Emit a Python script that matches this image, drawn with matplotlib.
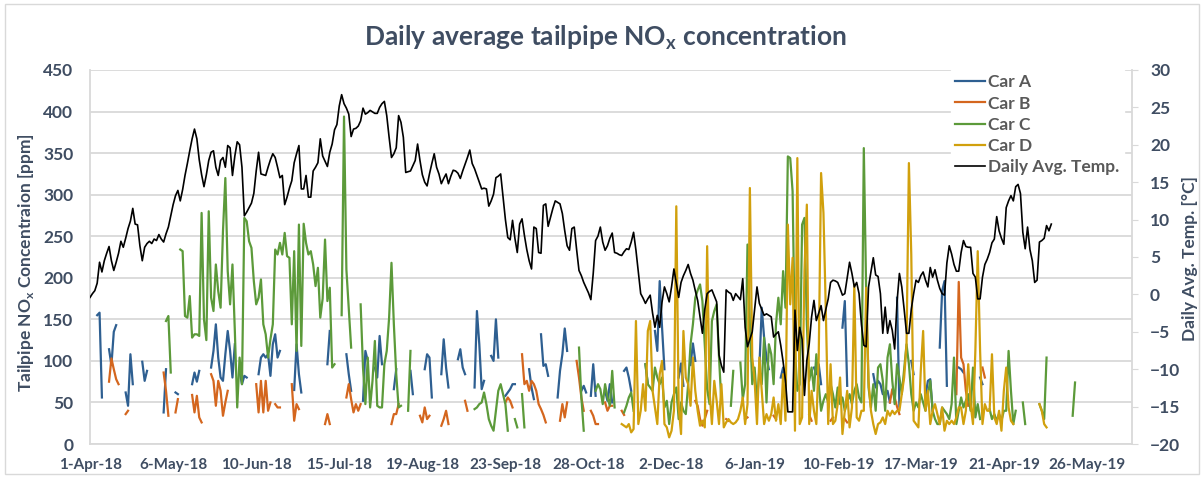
import numpy as np
import pandas as pd
import matplotlib
matplotlib.use("Agg")
import matplotlib.pyplot as plt
from matplotlib.patches import Rectangle

start = pd.Timestamp("2018-04-01")

# daily average temperature [°C], one value per day from 1-Apr-18
temp = [
    -0.4, 0.1, 0.5, 1.5, 4.3, 3.0, 4.5, 5.5, 6.4, 4.5,
    3.2, 4.3, 5.5, 7.1, 6.3, 7.5, 8.8, 9.8, 11.5, 9.4,
    9.3, 6.5, 4.5, 6.3, 6.8, 7.1, 6.8, 7.4, 7.2, 8.0,
    7.4, 7.0, 8.1, 9.0, 10.5, 12.0, 13.2, 13.9, 12.5, 14.0,
    15.9, 17.5, 19.2, 20.8, 22.1, 20.8, 18.0, 16.0, 14.4, 16.0,
    17.9, 19.0, 19.2, 17.0, 15.9, 17.9, 18.3, 17.0, 19.9, 19.6,
    15.9, 18.5, 20.4, 20.0, 17.0, 10.5, 11.0, 11.6, 12.2, 13.5,
    16.5, 19.0, 16.1, 16.0, 15.9, 17.0, 18.0, 18.8, 18.3, 17.0,
    15.6, 15.9, 12.0, 13.0, 14.2, 15.2, 17.6, 18.8, 19.9, 14.1,
    14.1, 15.9, 13.0, 13.0, 16.5, 17.0, 17.6, 20.8, 18.5, 17.8,
    17.1, 19.0, 20.1, 22.0, 22.7, 25.2, 26.7, 25.5, 24.9, 24.1,
    21.1, 22.1, 22.2, 22.5, 23.2, 24.9, 24.1, 24.3, 24.6, 24.4,
    24.2, 24.2, 25.0, 25.5, 25.8, 23.9, 21.0, 18.3, 18.8, 19.6,
    23.9, 23.0, 21.0, 16.3, 16.4, 16.5, 17.2, 17.9, 20.1, 17.9,
    16.0, 15.0, 14.5, 16.1, 17.5, 18.8, 17.0, 16.1, 14.8, 15.5,
    16.1, 14.8, 15.8, 16.6, 16.5, 16.2, 15.5, 16.5, 17.4, 18.3,
    19.3, 17.5, 16.8, 15.9, 15.0, 14.1, 14.2, 14.1, 11.8, 12.5,
    13.4, 15.6, 15.8, 16.1, 13.0, 10.0, 7.6, 7.3, 9.9, 7.5,
    5.6, 9.4, 10.1, 7.9, 6.0, 4.5, 3.4, 9.0, 8.8, 5.6,
    5.5, 11.9, 12.1, 9.1, 10.3, 11.5, 12.5, 12.3, 12.1, 10.8,
    8.5, 6.5, 5.9, 8.8, 9.0, 6.0, 3.2, 2.5, 1.6, 0.9,
    0.2, -0.7, 2.8, 7.2, 7.8, 9.0, 7.0, 5.9, 6.5, 7.5,
    8.2, 5.6, 5.5, 5.3, 5.2, 5.7, 6.1, 6.0, 7.0, 8.3,
    5.9, 3.0, 0.1, -0.5, -1.2, -0.6, -0.1, -2.5, -4.4, -2.8,
    -4.4, -1.0, 1.0, 0.1, -1.0, 1.0, 3.4, 1.5, -0.4, 1.6,
    2.5, 3.2, 4.0, 2.8, 1.9, 0.5, -0.8, -3.0, -5.2, -2.0,
    0.1, 0.4, 0.6, -0.2, -1.0, -8.1, -9.5, -10.4, 0.6, 0.3,
    0.1, -0.8, 0.1, -0.3, -0.7, 2.1, -4.4, -7.0, -6.0, -5.0,
    -2.0, 1.0, -1.2, -2.0, -2.8, -2.6, -2.8, -3.0, -5.7, -5.3,
    -5.0, -6.8, -9.0, -11.5, -15.7, -15.7, -15.7, -2.1, -7.5, -4.4,
    -6.0, -13.5, -8.8, -6.6, -3.0, -0.8, -3.5, -2.5, -1.5, -3.5,
    -2.0, -0.6, 1.6, 1.9, 1.8, 1.6, 0.8, -0.1, 0.1, 2.2,
    4.3, 2.8, 1.0, 1.6, 0.1, -4.0, -6.8, -7.0, 1.0, 3.0,
    4.9, 2.6, 2.4, 0.1, -5.2, -1.7, -5.2, -3.5, -4.8, -7.3,
    -1.0, 2.8, 1.0, -2.0, -5.2, -5.2, -2.0, 0.1, 1.9, 1.6,
    2.5, 3.0, 1.9, 1.0, 3.6, 2.3, 3.3, 1.9, 0.8, 0.1,
    -0.1, 4.2, 6.5, 5.4, 4.0, 3.1, 3.1, 5.6, 7.2, 6.4,
    6.3, 6.3, 2.8, 2.3, -0.6, -0.6, 2.3, 4.0, 4.7, 5.6,
    6.9, 7.4, 10.4, 8.5, 7.5, 6.7, 11.6, 12.5, 13.2, 12.5,
    14.4, 14.7, 13.5, 8.3, 6.1, 9.0, 6.0, 4.5, 1.6, 1.9,
    7.0, 7.2, 7.5, 9.2, 8.5, 9.4,
]

# NOx [ppm]: (first day after 1-Apr-18, consecutive daily values); gaps = no data
car_a = [
    (3, [155, 158, 56]), (8, [114, 95, 135, 143]), (15, [62, 46, 108, 72]),
    (22, [99, 76, 88]), (31, [38, 90]), (36, [62, 60]), (43, [72, 86, 75, 88]),
    (51, [92, 112, 144, 104, 80, 76, 108, 136, 112, 80, 120]),
    (63, [88, 72, 82, 80]),
    (71, [84, 104, 108, 104, 108, 82, 120, 132, 104, 112]),
    (86, [65, 120, 84, 62]), (100, [96, 136]), (108, [108, 84, 64]),
    (115, [52, 112, 100]), (120, [92, 80, 130, 96]), (128, [66, 90]),
    (135, [88, 60]), (141, [90, 108, 104, 56]), (148, [84, 126, 92, 68]),
    (155, [102, 114, 92, 84]), (162, [68, 160, 120, 66, 76]),
    (169, [106, 100, 150, 104]), (175, [58, 62, 66, 72, 72]),
    (185, [90, 68, 54]), (190, [132, 94, 96, 82]),
    (197, [56, 88, 108, 139, 112]), (207, [64, 70, 62]), (211, [58, 96, 58]),
    (217, [64, 52, 72, 50]), (225, [88, 92, 80, 64]), (234, [96, 72]),
    (238, [136, 112, 196, 140, 90]), (248, [80, 97, 70]), (253, [95, 121, 100]),
    (282, [92, 164, 128, 104, 90]), (291, [80, 92, 75]),
    (305, [92, 84, 96, 72]), (317, [140, 172, 70]),
    (330, [84, 68, 76, 72, 60, 62, 64, 50]), (340, [176, 45]),
    (346, [100, 84]), (352, [58, 76, 78, 40]), (358, [116, 184, 196, 70]),
    (366, [92, 90, 86]), (375, [80, 72]),
]
car_b = [
    (8, [75, 103, 90, 78, 72]), (15, [36, 40]), (31, [86, 64, 34]),
    (36, [38, 54]), (43, [59, 38, 58, 32, 26]),
    (51, [84, 76, 46, 76, 64, 34, 50, 64]),
    (70, [72, 38, 76, 38, 76, 40, 50]), (78, [48, 44, 44]),
    (85, [72, 28, 48, 42]), (99, [24, 36, 24]),
    (108, [56, 72, 54, 38, 48, 40, 48]), (127, [24, 36, 36, 48]),
    (139, [34, 26, 44, 30, 34]), (148, [22, 30, 40, 24]), (158, [52, 40]),
    (175, [50, 56, 52, 44]),
    (182, [108, 72, 76, 64, 76, 72, 64, 48, 42, 35, 26]),
    (198, [28, 48, 32, 50]), (205, [100, 80, 56, 40]), (211, [40, 34, 24, 24]),
    (217, [50, 40, 46, 46]), (224, [40, 35]), (255, [52, 46, 30, 22, 30, 40]),
    (268, [30, 28]), (276, [30, 32]), (288, [34, 30]), (303, [35, 28]),
    (312, [28, 32]), (318, [30, 26]), (337, [50, 66, 56, 45, 36]),
    (365, [60, 195, 104, 96, 64, 46]), (376, [92, 80]),
]
car_c = [
    (32, [148, 154, 86]),
    (38, [234, 232, 154, 152, 178, 128, 132, 132, 130, 278,
          150, 125, 280, 176, 160, 216, 184, 164, 256, 320,
          208, 168, 216, 136, 44, 104, 72, 272, 268, 244,
          236, 196, 168, 176, 198, 144, 132, 104, 126, 144,
          234, 228, 242, 228, 254, 226, 224, 144, 232, 112,
          264, 118, 265, 242, 228, 232, 216, 190, 212, 152,
          175, 246, 172, 188, 92, 96]),
    (106, [155, 394, 210, 164, 116]),
    (114, [168, 92, 48, 104, 44, 76, 124, 46, 44, 44, 96, 112, 152, 218,
           144, 84, 44, 46]),
    (134, [40, 112]),
    (162, [42, 44, 48, 50, 62, 48, 30, 22, 16, 40, 64, 72, 60, 48, 16]),
    (179, [30, 20]), (182, [60, 20]), (206, [116, 56, 16]),
    (213, [64, 72, 66, 48, 72, 56, 46, 88, 44]),
    (225, [38, 46, 56, 62, 40]),
    (234, [96, 72, 68, 64, 92, 80, 72, 80, 44, 52, 24, 50, 60, 68, 30,
           50, 40, 36, 72, 120, 144, 176, 185, 192, 172, 120, 66, 48, 148,
           160, 168, 104, 50]),
    (270, [46, 88]),
    (274, [98, 54, 72, 240, 144, 72, 92, 50, 90, 72,
           128, 50, 120, 108, 72, 144, 176, 144, 208, 164,
           346, 344, 304, 112, 64, 72, 264, 272, 144, 76,
           92, 64, 108, 72, 40, 52, 60, 50, 72, 60,
           44, 68, 48, 56, 40, 50, 60, 48, 64, 72,
           56, 50, 356, 184, 68, 44, 72, 40, 92, 96,
           76, 40, 104, 120, 76, 48, 96, 80, 60, 90,
           120, 96, 60, 40, 50, 44, 60, 50, 40, 60,
           76, 40, 30, 24, 24, 44, 40, 36, 30, 48,
           104, 24, 40, 56, 44, 52, 60, 40, 92, 32,
           48, 30]),
    (379, [42, 30, 36, 28, 36, 28, 40, 40, 112, 64, 24, 40]),
    (393, [50, 24]), (400, [48, 40, 30, 104]), (414, [34, 74]),
]
car_d = [
    (224, [24, 22, 20, 24, 14, 18, 148, 24, 40, 72,
           40, 136, 148, 64, 44, 24, 84, 100, 24, 20,
           8, 16, 40, 286, 44, 12, 136, 80, 72, 46,
           104, 64, 40, 22, 28, 20, 238, 64, 24, 76,
           52, 24]),
    (266, [72, 20, 26, 30, 26, 24, 26, 30, 40, 56,
           24, 48, 308, 104, 76, 24, 104, 64, 24, 36,
           28, 36, 56, 28, 48, 24, 84, 28, 264, 168,
           224, 16, 344, 24, 32, 208, 288, 24, 64, 40,
           24, 104, 326, 278, 160, 24, 96, 24, 28, 48,
           80, 12, 40, 64, 20, 44, 192, 32, 28, 40,
           40, 188, 76, 40, 24, 12, 24, 26, 32, 24,
           40, 34, 40, 36, 40, 40, 60, 80, 120, 338,
           228, 28, 24, 20, 88, 136, 40, 64, 24, 40,
           48, 36, 24, 44, 16, 28, 24, 28, 24, 32,
           44, 44, 24, 40, 96, 48, 24, 112, 232, 112,
           24, 48, 40, 40, 108, 32, 24, 40, 16, 64,
           92, 44, 28, 24]),
    (400, [48, 40, 24, 20]),
]

series = ["Car A", "Car B", "Car C", "Car D"]
colors = ["#2E5F91", "#D4661E", "#5C9A3A", "#D1A00D"]

n_days = 440
days = start + pd.to_timedelta(np.arange(n_days), unit="D")


def daily(segments):
    v = np.full(n_days, np.nan)
    for d0, vals in segments:
        v[d0:d0 + len(vals)] = vals
    return v


font = "Lato"
txt = "#3F4D62"
plt.rcParams["font.family"] = [font, "DejaVu Sans"]

fig = plt.figure(figsize=(12.04, 4.78), dpi=100)
ax = fig.add_axes([0.0748, 0.0711, 0.8654, 0.7825])

for name, segs, col in zip(series, [car_a, car_b, car_c, car_d], colors):
    ax.plot(days, daily(segs), color=col, lw=1.6, label=name)

ax2 = ax.twinx()
ax2.plot(start + pd.to_timedelta(np.arange(len(temp)), unit="D"), temp,
         color="black", lw=1.2, label="Daily Avg. Temp.")

ax.set_ylim(0, 450)
ax.set_yticks(np.arange(0, 451, 50))
ax2.set_ylim(-20, 30)
ax2.set_yticks(np.arange(-20, 31, 5))
ax.set_xlim(start, start + pd.Timedelta(days=439))

xt = pd.date_range(start, periods=13, freq="35D")
ax.set_xticks(xt)
ax.set_xticklabels([f"{d.day}-{d.strftime('%b-%y')}" for d in xt])

ax.yaxis.grid(True, color="#d9d9d9", lw=1.3)
ax.set_axisbelow(True)
for s in ["top", "right"]:
    ax.spines[s].set_visible(False)
for s in ["left", "bottom"]:
    ax.spines[s].set_color("#d9d9d9")
    ax.spines[s].set_linewidth(1.3)
for s in ["top", "left", "bottom"]:
    ax2.spines[s].set_visible(False)
ax2.spines["right"].set_color("#d9d9d9")
ax2.spines["right"].set_linewidth(1.3)

ax.tick_params(axis="y", length=0, pad=12, labelsize=12.5, labelcolor=txt)
ax.tick_params(axis="x", length=0, pad=10, labelsize=11, labelcolor=txt)
ax2.tick_params(axis="y", length=4, color="#d9d9d9", pad=9, labelsize=12.5,
                labelcolor=txt)
for lab in ax.get_xticklabels() + ax.get_yticklabels() + ax2.get_yticklabels():
    lab.set_fontweight("bold")

fig.text(0.503, 0.92, r"Daily average tailpipe NO$_\mathregular{x}$ concentration",
         ha="center", va="center", fontsize=19, fontweight="bold", color=txt)
fig.text(0.022, 0.45, r"Tailpipe NO$_\mathregular{x}$ Concentraion [ppm]",
         ha="center", va="center", rotation=90, fontsize=12.5,
         fontweight="bold", color=txt)
fig.text(0.988, 0.46, "Daily Avg. Temp. [°C]", ha="center", va="center",
         rotation=90, fontsize=12.5, fontweight="bold", color=txt)

h1, l1 = ax.get_legend_handles_labels()
h2, l2 = ax2.get_legend_handles_labels()
leg = ax2.legend(h1 + h2, l1 + l2, loc="upper left", bbox_to_anchor=(0.826, 1.0),
                 frameon=True, facecolor="white", edgecolor="white", framealpha=1,
                 fancybox=False, borderaxespad=0, borderpad=0.25,
                 handlelength=1.75, handletextpad=0.15, labelspacing=0.3,
                 prop={"family": font, "weight": "bold", "size": 12.5})
for t in leg.get_texts():
    t.set_color("#595959")

fig.patches.append(Rectangle((0.004, 0.008), 0.992, 0.984, transform=fig.transFigure,
                             fill=False, edgecolor="#d9d9d9", lw=1))

fig.savefig("out.png", dpi=100)
